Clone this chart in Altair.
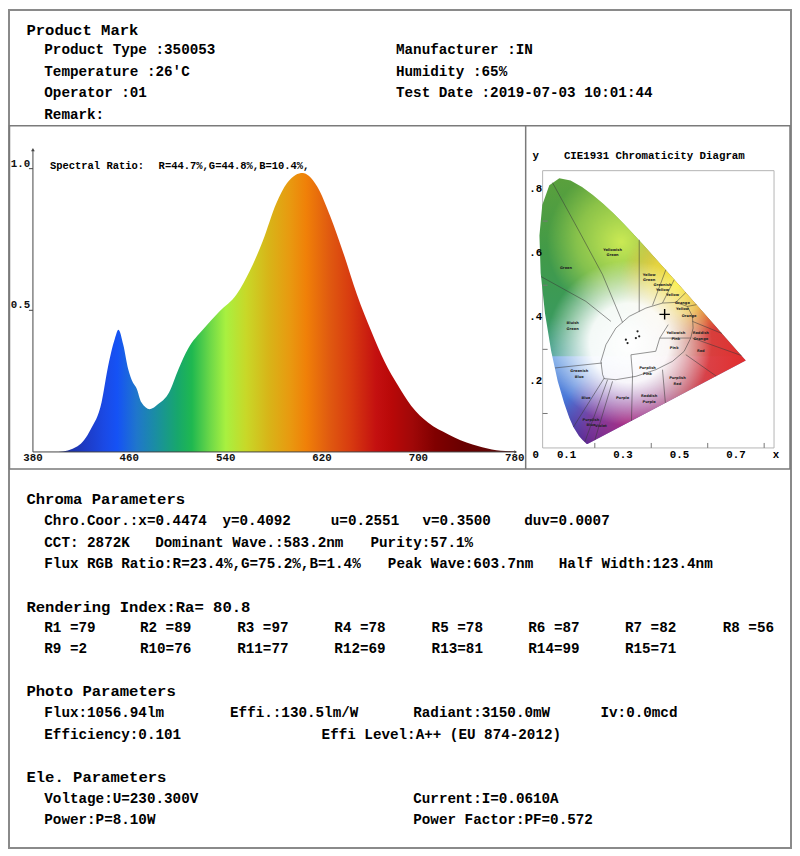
import altair as alt
import pandas as pd

# ------------------------------------------------------------------ data
HEADER_TITLE = "Product Mark"
HEADER_LEFT = ["Product Type :350053", "Temperature :26'C", "Operator :01", "Remark:"]
HEADER_RIGHT = ["Manufacturer :IN", "Humidity :65%", "Test Date :2019-07-03 10:01:44"]

CHROMA_TITLE = "Chroma Parameters"
CHROMA_ROW1 = ["Chro.Coor.:x=0.4474", "y=0.4092", "u=0.2551", "v=0.3500", "duv=0.0007"]
CHROMA_ROW2 = ["CCT: 2872K", "Dominant Wave.:583.2nm", "Purity:57.1%"]
CHROMA_ROW3 = ["Flux RGB Ratio:R=23.4%,G=75.2%,B=1.4%", "Peak Wave:603.7nm", "Half Width:123.4nm"]

RA_VALUE = "80.8"
RI_NAMES = ["R1", "R2", "R3", "R4", "R5", "R6", "R7", "R8",
            "R9", "R10", "R11", "R12", "R13", "R14", "R15"]
RI_VALUES = [79, 89, 97, 78, 78, 87, 82, 56, 2, 76, 77, 69, 81, 99, 71]

PHOTO_TITLE = "Photo Parameters"
PHOTO_ROW1 = ["Flux:1056.94lm", "Effi.:130.5lm/W", "Radiant:3150.0mW", "Iv:0.0mcd"]
PHOTO_ROW2 = ["Efficiency:0.101", "Effi Level:A++ (EU 874-2012)"]

ELE_TITLE = "Ele. Parameters"
ELE_ROW1 = ["Voltage:U=230.300V", "Current:I=0.0610A"]
ELE_ROW2 = ["Power:P=8.10W", "Power Factor:PF=0.572"]

# relative spectral power distribution
WAVELENGTH = [380, 401, 417, 428, 437, 442, 448, 451, 455, 459, 463, 466, 470, 477,
              484, 493, 501, 509, 521, 535, 549, 560, 571, 582, 591, 598, 604, 609,
              616, 627, 638, 649, 661, 672, 683, 694, 708, 725, 745, 761, 780]
REL_POWER = [0.0, 0.0, 0.02, 0.08, 0.175, 0.294, 0.40, 0.431, 0.378, 0.294, 0.245,
             0.225, 0.175, 0.151, 0.169, 0.21, 0.294, 0.366, 0.431, 0.497, 0.556,
             0.639, 0.746, 0.877, 0.949, 0.978, 0.985, 0.975, 0.937, 0.83, 0.699,
             0.556, 0.425, 0.318, 0.235, 0.163, 0.104, 0.062, 0.026, 0.009, 0.002]
SPEC_XTICKS = [380, 460, 540, 620, 700, 780]
SPEC_YTICKS = [0.5, 1.0]
SPECTRAL_RATIO_LABEL = "Spectral Ratio:"
SPECTRAL_RATIO = "R=44.7%,G=44.8%,B=10.4%,"

# spectrum colour ramp (wavelength, colour)
RAMP_NM = [380, 405, 425, 440, 450, 466, 482, 500, 512, 527, 540, 557, 576, 593,
           607, 626, 643, 665, 678, 695, 714, 736, 780]
RAMP_COLORS = ["#1a2a8c", "#1c2e9c", "#1d3cc8", "#1a4ae6", "#1552f5", "#1f76cc",
               "#1a8ea2", "#17a76c", "#1fb850", "#6cd848", "#a8f040", "#c8d828",
               "#d8b418", "#e89a10", "#f08008", "#e05a10", "#d83c10", "#c41010",
               "#b80808", "#a00808", "#800000", "#6a0000", "#5a0c0c"]

# CIE 1931 spectral locus (x, y)
LOCUS_X = [0.1741, 0.1714, 0.1644, 0.1566, 0.1440, 0.1241, 0.1096, 0.0913, 0.0687,
           0.0454, 0.0235, 0.0082, 0.0039, 0.0139, 0.0389, 0.0743, 0.1142, 0.1547,
           0.1929, 0.2296, 0.2658, 0.3016, 0.3373, 0.3731, 0.4441, 0.5125, 0.5752,
           0.6270, 0.6658, 0.6915, 0.7079, 0.7190, 0.7300, 0.7334, 0.7347, 0.1741]
LOCUS_Y = [0.0050, 0.0051, 0.0109, 0.0177, 0.0297, 0.0578, 0.0868, 0.1327, 0.2007,
           0.2950, 0.4127, 0.5384, 0.6548, 0.7502, 0.8120, 0.8338, 0.8262, 0.8059,
           0.7816, 0.7543, 0.7243, 0.6923, 0.6589, 0.6245, 0.5547, 0.4866, 0.4242,
           0.3725, 0.3340, 0.3083, 0.2920, 0.2809, 0.2700, 0.2666, 0.2653, 0.0050]

# Kelly colour-region boundaries
BOUNDARIES = [
    [(0.2276, 0.2210), (0.2217, 0.2626), (0.2394, 0.3145), (0.2747, 0.3664),
     (0.3219, 0.4028), (0.3808, 0.4287), (0.4398, 0.4443), (0.4870, 0.4464),
     (0.5282, 0.4339), (0.5459, 0.4028), (0.5483, 0.3664), (0.5400, 0.3353),
     (0.5164, 0.2937), (0.4752, 0.2626), (0.4162, 0.2366), (0.3455, 0.2158),
     (0.2747, 0.2054), (0.2335, 0.2086), (0.2276, 0.2210)],
    [(0.0500, 0.8200), (0.1450, 0.6676), (0.2276, 0.5326), (0.2983, 0.3840)],
    [(0.3573, 0.6417), (0.3573, 0.4180)],
    [(0.4516, 0.5480), (0.4044, 0.4370)],
    [(0.4811, 0.5170), (0.4398, 0.4443)],
    [(0.5223, 0.4770), (0.4870, 0.4464)],
    [(0.5600, 0.4393), (0.5282, 0.4339)],
    [(0.6500, 0.3497), (0.5459, 0.3872)],
    [(0.7190, 0.2809), (0.5459, 0.3353)],
    [(0.6300, 0.2167), (0.5223, 0.2834)],
    [(0.4500, 0.1331), (0.4398, 0.2366)],
    [(0.3300, 0.0774), (0.3337, 0.2210)],
    [(0.2000, 0.0170), (0.2629, 0.2002)],
    [(0.1644, 0.0109), (0.2453, 0.2054)],
    [(0.1241, 0.0578), (0.2335, 0.2106)],
    [(0.0590, 0.2420), (0.2252, 0.2574)],
    [(0.0095, 0.5270), (0.1686, 0.4495), (0.2570, 0.3872)],
    [(0.3337, 0.2210), (0.3280, 0.2830), (0.4160, 0.2940), (0.4300, 0.3350),
     (0.5400, 0.3353)],
    [(0.4300, 0.3350), (0.4600, 0.3770)],
]
REGION_NAMES = ["Green", "Yellowish\nGreen", "Yellow\nGreen", "Greenish\nYellow",
                "Yellow", "Orange\nYellow", "Orange", "Bluish\nGreen",
                "Yellowish\nPink", "Reddish\nOrange", "Pink", "Red",
                "Greenish\nBlue", "Purplish\nPink", "Purplish\nRed", "Blue",
                "Purple", "Reddish\nPurple", "Purplish\nBlue", "Violet"]
REGION_X = [0.0979, 0.2629, 0.3926, 0.4398, 0.4752, 0.5105, 0.5341, 0.1215,
            0.4870, 0.5754, 0.4811, 0.5754, 0.1450, 0.3867, 0.4929, 0.1686,
            0.2983, 0.3926, 0.1863, 0.2217]
REGION_Y = [0.5534, 0.6105, 0.5326, 0.5014, 0.4703, 0.4443, 0.4028, 0.3820,
            0.3509, 0.3509, 0.3041, 0.2937, 0.2314, 0.2418, 0.2106, 0.1483,
            0.1483, 0.1535, 0.0808, 0.0600]
REF_DOTS_X = [0.3101, 0.3160, 0.3455, 0.3514, 0.3573]
REF_DOTS_Y = [0.3301, 0.3197, 0.3353, 0.3561, 0.3405]
MEASURED_X = [0.4474]
MEASURED_Y = [0.4092]
CIE_X_LABELS = [0.1, 0.3, 0.5, 0.7]
CIE_Y_LABELS = [0.2, 0.4, 0.6, 0.8]
CIE_X_MINOR = [0.2, 0.4, 0.6, 0.8]
CIE_Y_MINOR = [0.1, 0.3, 0.5, 0.7]

# ------------------------------------------------------------------ layout
OFF = 8          # page margin -> chart coordinates
W, H = 786, 841
MONO = "Liberation Mono"
TITLE_X, BODY_X, RIGHT_X = 26.5, 44.4, 397.0


def P(v):
    return v - OFF


one = pd.DataFrame({"k": [0]})

# scales placed in page pixels
SX = alt.Scale(domain=[380, 780], range=[P(33), P(516)], nice=False, zero=False)
SY = alt.Scale(domain=[0, 1], range=[P(452), P(168)], nice=False, zero=False)
CX = alt.Scale(domain=[0, 0.8], range=[P(539.7), P(766.1)], nice=False, zero=False)
CY = alt.Scale(domain=[0, 0.8], range=[P(445.6), P(188.4)], nice=False, zero=False)

# ------------------------------------------------------------------ text
titles, body = [], []


def add(lst, texts, xs, y):
    for t, x in zip(texts, xs):
        lst.append({"t": t, "px": P(x), "py": P(y)})


add(titles, [HEADER_TITLE], [TITLE_X], 29)
for t, y in zip(HEADER_LEFT, [49, 71, 92, 114]):
    add(body, [t], [BODY_X], y)
for t, y in zip(HEADER_RIGHT, [49, 71, 92]):
    add(body, [t], [RIGHT_X], y)

add(titles, [CHROMA_TITLE], [TITLE_X], 499)
add(body, CHROMA_ROW1, [BODY_X, 223, 331.6, 423.5, 525.5], 521)
add(body, CHROMA_ROW2, [BODY_X, 155.6, 371.4], 543)
add(body, CHROMA_ROW3, [BODY_X, 388.8, 560.2], 564)

add(titles, [f"Rendering Index:Ra= {RA_VALUE}"], [TITLE_X], 607)
RI_COLS = [BODY_X, 140.3, 237.8, 335.2, 432.7, 529.6, 626.5, 724.5]
ri_labels = [f"{n:<3}={v}" for n, v in zip(RI_NAMES, RI_VALUES)]
add(body, ri_labels[:8], RI_COLS, 629)
add(body, ri_labels[8:], RI_COLS, 650)

add(titles, [PHOTO_TITLE], [TITLE_X], 692)
add(body, PHOTO_ROW1, [BODY_X, 230.6, 414.3, 602], 714)
add(body, PHOTO_ROW2, [BODY_X, 322.4], 736)

add(titles, [ELE_TITLE], [TITLE_X], 778)
add(body, ELE_ROW1, [BODY_X, 414.3], 800)
add(body, ELE_ROW2, [BODY_X, 414.3], 821)

PX = alt.X("px:Q", scale=None, axis=None)
PY = alt.Y("py:Q", scale=None, axis=None)

title_layer = alt.Chart(pd.DataFrame(titles)).mark_text(
    align="left", baseline="middle", font=MONO, fontWeight="bold",
    fontSize=15.6, color="#000"
).encode(x=PX, y=PY, text="t:N")

body_layer = alt.Chart(pd.DataFrame(body)).mark_text(
    align="left", baseline="middle", font=MONO, fontWeight="bold",
    fontSize=14.3, color="#000"
).encode(x=PX, y=PY, text="t:N")

# ------------------------------------------------------------------ frames
def box(x1, x2, y1, y2, color, width):
    return alt.Chart(one).mark_rect(
        filled=False, stroke=color, strokeWidth=width
    ).encode(x=alt.value(x1), x2=alt.value(x2), y=alt.value(y1), y2=alt.value(y2))


outer = box(1, P(793), 1, P(849), "#8a8a8a", 2)
panel = box(1.5, P(792), P(125), P(469), "#7a7a7a", 1.5)
divider = alt.Chart(one).mark_rule(color="#7a7a7a", strokeWidth=1.5).encode(
    x=alt.value(P(527)), y=alt.value(P(125)), y2=alt.value(P(469)))
cie_frame = box(P(544), P(776), P(170), P(448), "#b5b5b5", 1)

# ------------------------------------------------------------------ spectrum
df_spec = pd.DataFrame({"wl": WAVELENGTH, "rel": REL_POWER})
spec_grad = alt.LinearGradient(
    gradient="linear",
    stops=[alt.GradientStop(color=c, offset=(nm - 380) / 400)
           for nm, c in zip(RAMP_NM, RAMP_COLORS)],
    x1=0, x2=1, y1=0, y2=0,
)
spec_area = alt.Chart(df_spec).mark_area(
    interpolate="monotone", fill=spec_grad
).encode(x=alt.X("wl:Q", scale=SX, axis=None), y=alt.Y("rel:Q", scale=SY, axis=None))

axis_col = "#444"
spec_yaxis = alt.Chart(one).mark_rule(color=axis_col, strokeWidth=1).encode(
    x=alt.value(P(33)), y=alt.value(P(452)), y2=alt.value(P(150)))
spec_xaxis = alt.Chart(one).mark_rule(color=axis_col, strokeWidth=1).encode(
    x=alt.value(P(33)), x2=alt.value(P(517)), y=alt.value(P(452)))
spec_arrow_up = alt.Chart(one).mark_point(
    shape="triangle-up", filled=True, size=14, color=axis_col, opacity=1
).encode(x=alt.value(P(33)), y=alt.value(P(149)))
spec_arrow_right = alt.Chart(one).mark_point(
    shape="triangle-right", filled=True, size=10, color=axis_col, opacity=1
).encode(x=alt.value(P(517)), y=alt.value(P(452)))

df_xt = pd.DataFrame({"v": SPEC_XTICKS, "lab": [str(v) for v in SPEC_XTICKS]})
spec_xlabels = alt.Chart(df_xt).mark_text(
    font=MONO, fontSize=10.8, fontWeight="bold", color="#111",
    baseline="middle", align="center"
).encode(x=alt.X("v:Q", scale=SX, axis=None), y=alt.value(P(458)), text="lab:N")

df_yt = pd.DataFrame({"v": SPEC_YTICKS, "lab": [f"{v:.1f}" for v in SPEC_YTICKS]})
spec_ylabels = alt.Chart(df_yt).mark_text(
    font=MONO, fontSize=10.8, fontWeight="bold", color="#111",
    baseline="bottom", align="center"
).encode(y=alt.Y("v:Q", scale=SY, axis=None), x=alt.value(P(20.5)), text="lab:N")
spec_yticks = alt.Chart(df_yt).mark_rule(color=axis_col).encode(
    y=alt.Y("v:Q", scale=SY, axis=None), x=alt.value(P(29)), x2=alt.value(P(33)))

spec_ratio = alt.Chart(pd.DataFrame({
    "t": [SPECTRAL_RATIO_LABEL, SPECTRAL_RATIO],
    "px": [P(50), P(159)], "py": [P(165), P(165)]})).mark_text(
    align="left", baseline="middle", font=MONO, fontWeight="bold",
    fontSize=10.5, color="#000"
).encode(x=PX, y=PY, text="t:N")

spectrum = alt.layer(spec_area, spec_yaxis, spec_xaxis, spec_arrow_up,
                     spec_arrow_right, spec_xlabels, spec_ylabels, spec_yticks)

# ------------------------------------------------------------------ CIE diagram
df_locus = pd.DataFrame({"cx": LOCUS_X, "cy": LOCUS_Y, "i": range(len(LOCUS_X))})
ENC_C = dict(x=alt.X("cx:Q", scale=CX, axis=None), y=alt.Y("cy:Q", scale=CY, axis=None),
             order=alt.Order("i:Q"))


def lin(stops, x1, y1, x2, y2):
    return alt.LinearGradient(
        gradient="linear", x1=x1, y1=y1, x2=x2, y2=y2,
        stops=[alt.GradientStop(color=c, offset=o) for o, c in stops])


def rad(stops, cx, cy, r):
    return alt.RadialGradient(
        gradient="radial", x1=cx, y1=cy, r1=0, x2=cx, y2=cy, r2=r,
        stops=[alt.GradientStop(color=c, offset=o) for o, c in stops])


fills = [
    lin([(0, "#5aa03c"), (0.28, "#419a48"), (0.52, "#3a9a5c"), (0.64, "#46a08c"),
         (0.668, "#4ea29a"), (0.672, "#7aaae6"), (0.825, "#4a78d8"), (1, "#3a2a98")],
        0, 0, 0, 1),
    lin([(0, "rgba(230,60,60,0)"), (0.42, "rgba(230,60,60,0)"),
         (0.62, "rgba(232,70,60,0.6)"), (0.82, "rgba(228,56,56,0.92)"),
         (1, "rgba(225,45,45,1)")], 0, 0, 1, 0),
    rad([(0, "rgba(210,238,85,0.95)"), (0.6, "rgba(200,232,80,0.5)"),
         (1, "rgba(200,232,80,0)")], 0.42, 0.24, 0.28),
    rad([(0, "rgba(250,240,60,1)"), (0.5, "rgba(246,222,60,0.75)"),
         (1, "rgba(246,190,60,0)")], 0.63, 0.40, 0.22),
    rad([(0, "rgba(196,40,120,0.8)"), (0.6, "rgba(180,40,130,0.45)"),
         (1, "rgba(160,40,140,0)")], 0.44, 0.92, 0.24),
    rad([(0, "rgba(255,255,255,1)"), (0.48, "rgba(255,255,255,0.94)"),
         (1, "rgba(255,255,255,0)")], 0.45, 0.62, 0.31),
]
locus_layers = [
    alt.Chart(df_locus).mark_line(fill=f, strokeOpacity=0, interpolate="linear").encode(**ENC_C)
    for f in fills
]

seg_rows = []
for s, seg in enumerate(BOUNDARIES):
    for i, (bx, by) in enumerate(seg):
        seg_rows.append({"seg": s, "i": i, "cx": bx, "cy": by})
boundary = alt.Chart(pd.DataFrame(seg_rows)).mark_line(
    color="#3a3a3a", strokeWidth=0.6, opacity=0.9
).encode(x=alt.X("cx:Q", scale=CX, axis=None), y=alt.Y("cy:Q", scale=CY, axis=None),
         detail="seg:N", order=alt.Order("i:Q"))

region_labels = alt.Chart(pd.DataFrame({"t": REGION_NAMES, "cx": REGION_X, "cy": REGION_Y})).mark_text(
    font="DejaVu Sans", fontSize=3.6, fontWeight="bold", color="#222", lineBreak="\n"
).encode(x=alt.X("cx:Q", scale=CX, axis=None), y=alt.Y("cy:Q", scale=CY, axis=None), text="t:N")

ref_dots = alt.Chart(pd.DataFrame({"cx": REF_DOTS_X, "cy": REF_DOTS_Y})).mark_point(
    filled=True, size=5, color="#222", opacity=1
).encode(x=alt.X("cx:Q", scale=CX, axis=None), y=alt.Y("cy:Q", scale=CY, axis=None))

measured = alt.Chart(pd.DataFrame({"cx": MEASURED_X, "cy": MEASURED_Y})).mark_point(
    shape="M-1,0L1,0M0,-1L0,1", filled=False, size=110, color="#000",
    strokeWidth=1.4, opacity=1
).encode(x=alt.X("cx:Q", scale=CX, axis=None), y=alt.Y("cy:Q", scale=CY, axis=None))

cie_xlab = alt.Chart(pd.DataFrame({"v": CIE_X_LABELS, "lab": [f"{v:.1f}" for v in CIE_X_LABELS]})).mark_text(
    font=MONO, fontWeight="bold", fontSize=10.8, color="#000", baseline="middle"
).encode(x=alt.X("v:Q", scale=CX, axis=None), y=alt.value(P(455)), text="lab:N")
cie_ylab = alt.Chart(pd.DataFrame({"v": CIE_Y_LABELS, "lab": ["." + str(int(round(v * 10))) for v in CIE_Y_LABELS]})).mark_text(
    font=MONO, fontWeight="bold", fontSize=10.8, color="#000", baseline="middle"
).encode(y=alt.Y("v:Q", scale=CY, axis=None), x=alt.value(P(537)), text="lab:N")
cie_xminor = alt.Chart(pd.DataFrame({"v": CIE_X_MINOR})).mark_rule(color="#777").encode(
    x=alt.X("v:Q", scale=CX, axis=None), y=alt.value(P(448)), y2=alt.value(P(443)))
cie_yminor = alt.Chart(pd.DataFrame({"v": CIE_Y_MINOR})).mark_rule(color="#777").encode(
    y=alt.Y("v:Q", scale=CY, axis=None), x=alt.value(P(544)), x2=alt.value(P(549)))

cie_text = alt.Chart(pd.DataFrame({
    "t": ["y", "CIE1931 Chromaticity Diagram", "0", "x"],
    "px": [P(537), P(656), P(537), P(778)],
    "py": [P(155), P(155), P(455), P(455)]})).mark_text(
    align="center", baseline="middle", font=MONO, fontWeight="bold",
    fontSize=10.8, color="#000"
).encode(x=PX, y=PY, text="t:N")

cie = alt.layer(*locus_layers, boundary, region_labels, ref_dots, measured,
                cie_xlab, cie_ylab, cie_xminor, cie_yminor)

chart = alt.layer(
    outer, panel, divider, cie_frame, title_layer, body_layer,
    spectrum, spec_ratio, cie, cie_text
).resolve_scale(x="independent", y="independent").properties(
    width=W, height=H, padding=0, autosize=alt.AutoSizeParams(type="none"),
    background="white"
).configure_view(stroke=None)

chart.save("out.html", embed_options={"renderer": "svg", "actions": False})
